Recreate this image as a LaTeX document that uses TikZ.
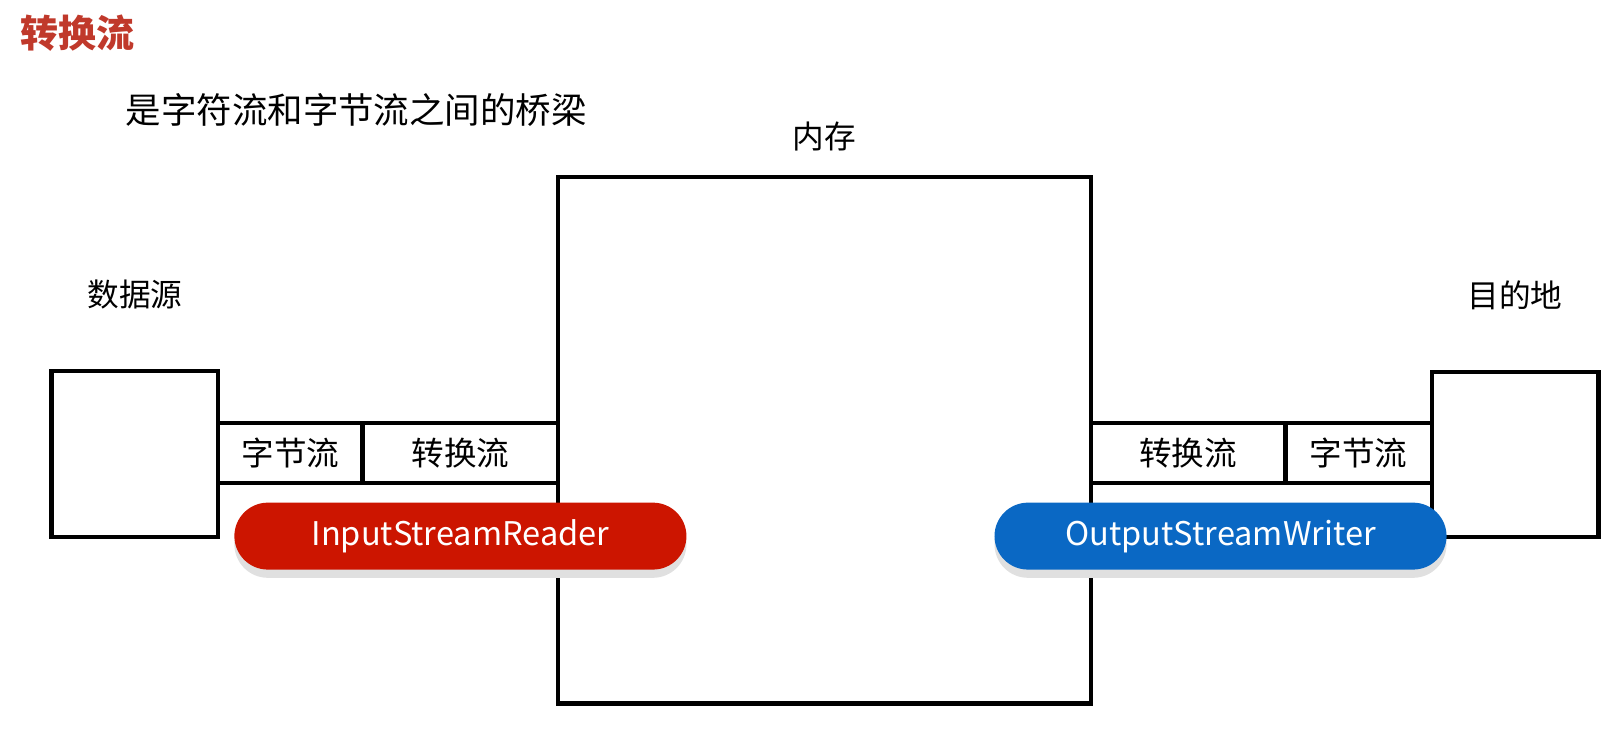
\documentclass[tikz,border=0pt]{standalone}
\usepackage{fontspec}
\setmainfont{Noto Sans CJK SC}
\usetikzlibrary{positioning,shadows}
\definecolor{titlered}{HTML}{C0392B}
\definecolor{readerred}{HTML}{CC1500}
\definecolor{writerblue}{HTML}{0A68C4}
\begin{document}
\begin{tikzpicture}[
	x=0.02cm, y=-0.02cm,
	every node/.style={inner sep=0pt, outer sep=0pt},
	box/.style={rectangle, draw=black, line width=2.3pt},
	cell/.style={box, minimum height=1.16cm, font=\fontsize{18}{20}\selectfont},
	caption/.style={font=\fontsize{17.5}{20}\selectfont},
	pill/.style={rectangle, rounded corners=0.65cm, minimum width=8.78cm, minimum height=1.3cm, text=white, font=\fontsize{18}{20}\selectfont,
		drop shadow={shadow xshift=0pt, shadow yshift=-0.16cm, fill=black!12, opacity=1}},
]
\useasboundingbox (0,0) rectangle (1568,708);
% headings
\node [font=\bfseries\fontsize{21}{24}\selectfont, text=titlered, anchor=west] (title) at (20,32) {转换流};
\node [font=\fontsize{19.6}{24}\selectfont, anchor=west] (bridge) at (122,107) {是字符流和字节流之间的桥梁};
% memory
\node [box, minimum width=10.34cm, minimum height=10.22cm] (mem) at (800.5,427.5) {};
\node [caption, above=0.5cm of mem.north] (memlabel) {内存};
% source side
\node [box, minimum width=3.24cm, minimum height=3.22cm] (src) at (131,440.5) {};
\node [caption, above=1.2cm of src.north] (srclabel) {数据源};
\node [cell, minimum width=2.8cm] (inbyte) at (282,440) {字节流};
\node [cell, minimum width=3.8cm] (inconv) at (447,440) {转换流};
% destination side
\node [box, minimum width=3.24cm, minimum height=3.2cm] (dst) at (1471,441) {};
\node [caption, above=1.2cm of dst.north] (dstlabel) {目的地};
\node [cell, minimum width=3.78cm] (outconv) at (1153.5,440) {转换流};
\node [cell, minimum width=2.84cm] (outbyte) at (1319,440) {字节流};
% stream classes
\node [pill, fill=readerred] (reader) at (447,520.5) {InputStreamReader};
\node [pill, fill=writerblue] (writer) at (1185,520.5) {OutputStreamWriter};
\end{tikzpicture}
\end{document}
